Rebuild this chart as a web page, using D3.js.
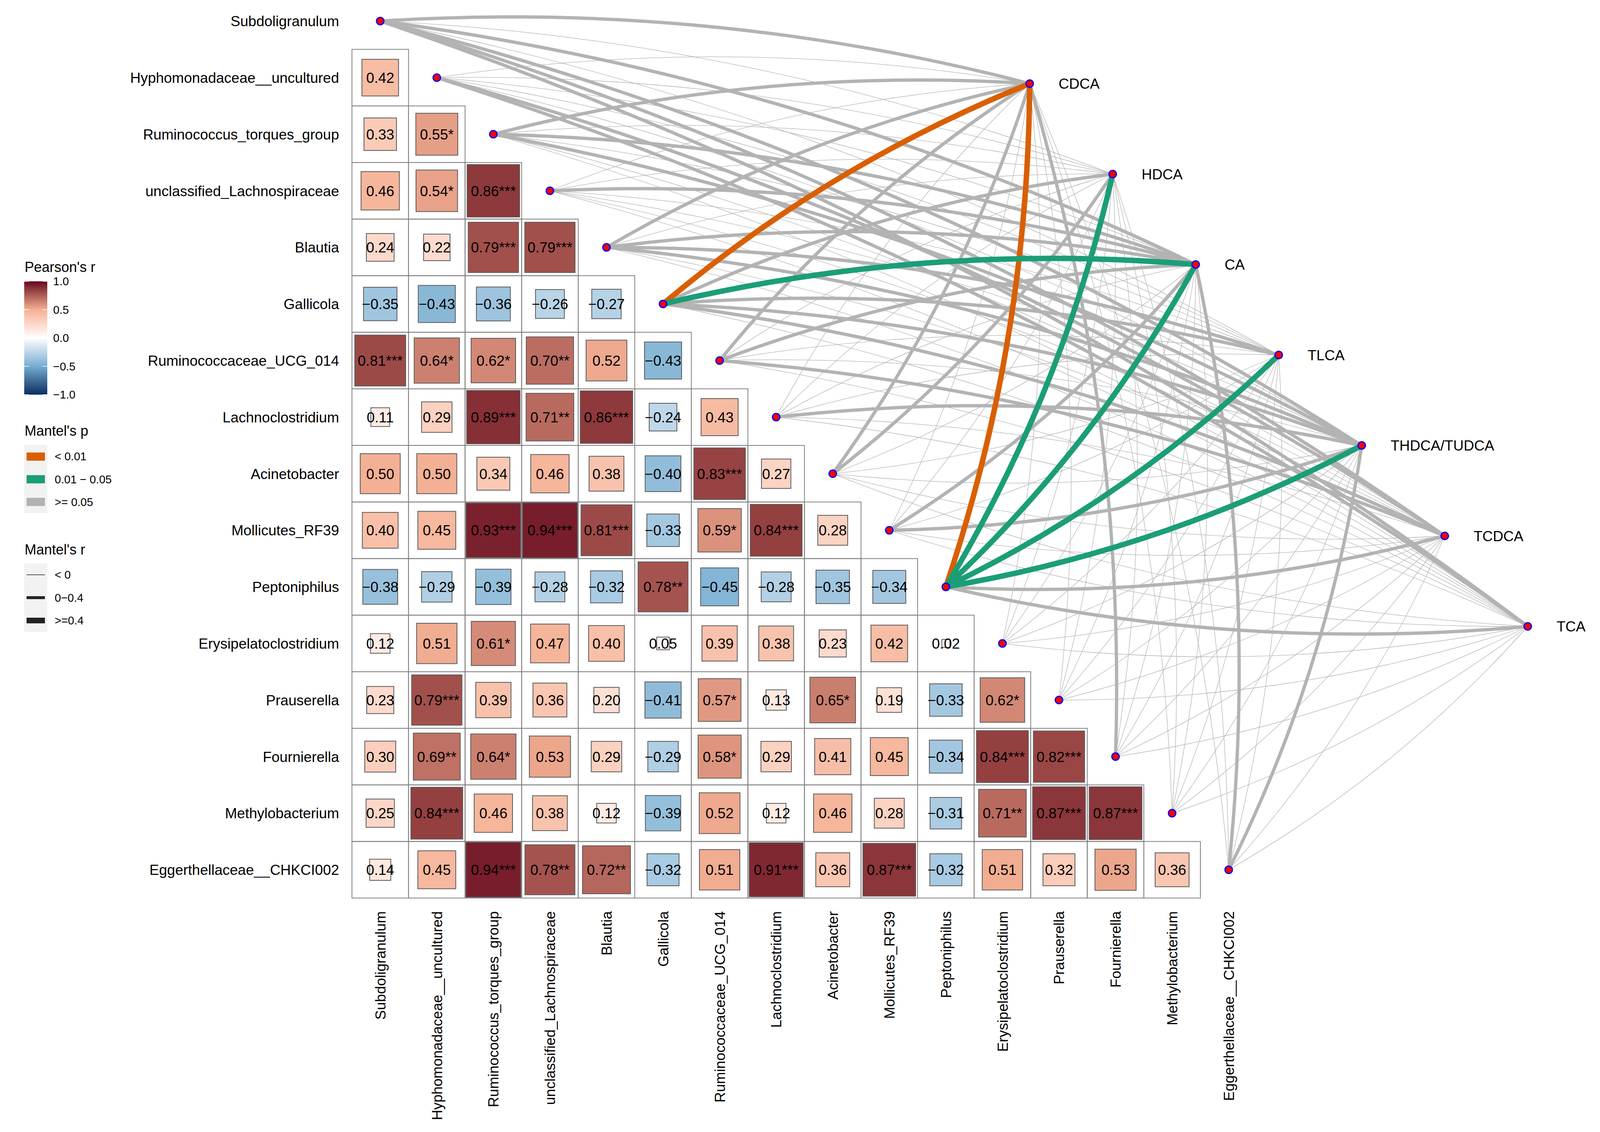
<!DOCTYPE html>
<html lang="en">
<head>
<meta charset="UTF-8">
<title>Mantel network and Pearson correlation matrix</title>
<script src="https://d3js.org/d3.v7.min.js"></script>
<style>
  body { margin: 0; background: #fff; }
  svg { display: block; font-family: "Liberation Sans", Arial, sans-serif; }
</style>
</head>
<body>
<div id="chart"></div>
<script>
const taxa = ["Subdoligranulum", "Hyphomonadaceae__uncultured", "Ruminococcus_torques_group",
  "unclassified_Lachnospiraceae", "Blautia", "Gallicola", "Ruminococcaceae_UCG_014",
  "Lachnoclostridium", "Acinetobacter", "Mollicutes_RF39", "Peptoniphilus",
  "Erysipelatoclostridium", "Prauserella", "Fournierella", "Methylobacterium",
  "Eggerthellaceae__CHKCI002"];

const bileAcids = ["CDCA", "HDCA", "CA", "TLCA", "THDCA/TUDCA", "TCDCA", "TCA"];

// lower triangle of Pearson's r: row i holds columns 0..i-1
const pearsonR = [
  [],
  [0.42],
  [0.33, 0.55],
  [0.46, 0.54, 0.86],
  [0.24, 0.22, 0.79, 0.79],
  [-0.35, -0.43, -0.36, -0.26, -0.27],
  [0.81, 0.64, 0.62, 0.70, 0.52, -0.43],
  [0.11, 0.29, 0.89, 0.71, 0.86, -0.24, 0.43],
  [0.50, 0.50, 0.34, 0.46, 0.38, -0.40, 0.83, 0.27],
  [0.40, 0.45, 0.93, 0.94, 0.81, -0.33, 0.59, 0.84, 0.28],
  [-0.38, -0.29, -0.39, -0.28, -0.32, 0.78, -0.45, -0.28, -0.35, -0.34],
  [0.12, 0.51, 0.61, 0.47, 0.40, 0.05, 0.39, 0.38, 0.23, 0.42, 0.02],
  [0.23, 0.79, 0.39, 0.36, 0.20, -0.41, 0.57, 0.13, 0.65, 0.19, -0.33, 0.62],
  [0.30, 0.69, 0.64, 0.53, 0.29, -0.29, 0.58, 0.29, 0.41, 0.45, -0.34, 0.84, 0.82],
  [0.25, 0.84, 0.46, 0.38, 0.12, -0.39, 0.52, 0.12, 0.46, 0.28, -0.31, 0.71, 0.87, 0.87],
  [0.14, 0.45, 0.94, 0.78, 0.72, -0.32, 0.51, 0.91, 0.36, 0.87, -0.32, 0.51, 0.32, 0.53, 0.36]
];

const pearsonStars = [
  [],
  [""],
  ["", "*"],
  ["", "*", "***"],
  ["", "", "***", "***"],
  ["", "", "", "", ""],
  ["***", "*", "*", "**", "", ""],
  ["", "", "***", "**", "***", "", ""],
  ["", "", "", "", "", "", "***", ""],
  ["", "", "***", "***", "***", "", "*", "***", ""],
  ["", "", "", "", "", "**", "", "", "", ""],
  ["", "", "*", "", "", "", "", "", "", "", ""],
  ["", "***", "", "", "", "", "*", "", "*", "", "", "*"],
  ["", "**", "*", "", "", "", "*", "", "", "", "", "***", "***"],
  ["", "***", "", "", "", "", "", "", "", "", "", "**", "***", "***"],
  ["", "", "***", "**", "**", "", "", "***", "", "***", "", "", "", "", ""]
];

// Mantel test classes, one row per bile acid, one column per taxon
// p class: 0 "< 0.01", 1 "0.01 - 0.05", 2 ">= 0.05"
const mantelP = [
  [2, 2, 2, 2, 2, 0, 2, 2, 2, 2, 0, 2, 2, 2, 2, 2],
  [2, 2, 2, 2, 2, 2, 2, 2, 2, 2, 1, 2, 2, 2, 2, 2],
  [2, 2, 2, 2, 2, 1, 2, 2, 2, 2, 1, 2, 2, 2, 2, 2],
  [2, 2, 2, 2, 2, 2, 2, 2, 2, 2, 1, 2, 2, 2, 2, 2],
  [2, 2, 2, 2, 2, 2, 2, 2, 2, 2, 1, 2, 2, 2, 2, 2],
  [2, 2, 2, 2, 2, 2, 2, 2, 2, 2, 2, 2, 2, 2, 2, 2],
  [2, 2, 2, 2, 2, 2, 2, 2, 2, 2, 2, 2, 2, 2, 2, 2]
];
// r class: 0 "< 0", 1 "0-0.4", 2 ">=0.4"
const mantelR = [
  [1, 0, 1, 0, 1, 2, 1, 0, 1, 0, 2, 0, 0, 1, 0, 0],
  [0, 0, 0, 0, 0, 1, 0, 0, 1, 0, 2, 0, 0, 0, 0, 0],
  [1, 0, 1, 1, 1, 2, 1, 0, 0, 1, 2, 0, 0, 0, 0, 1],
  [0, 0, 0, 0, 1, 1, 0, 0, 0, 0, 2, 0, 0, 0, 0, 0],
  [1, 0, 1, 0, 1, 1, 0, 1, 0, 1, 2, 0, 0, 0, 0, 1],
  [1, 1, 0, 0, 0, 1, 1, 0, 0, 0, 1, 0, 0, 0, 0, 0],
  [1, 1, 0, 0, 0, 0, 0, 0, 0, 0, 1, 0, 0, 0, 0, 0]
];

const pLabels = ["< 0.01", "0.01 \u2212 0.05", ">= 0.05"];
const rLabels = ["< 0", "0\u22120.4", ">=0.4"];
const colorTicks = [1, 0.5, 0, -0.5, -1];

const W = 4100, H = 2897;
const cs = 144.8;

const svg = d3.select("#chart").append("svg")
  .attr("width", W).attr("height", H);

const x = d3.scaleBand().domain(taxa).range([901, 901 + 16 * cs]);
const y = d3.scaleBand().domain(taxa).range([126.3 - cs, 126.3 + 15 * cs]);
const ex = d3.scalePoint().domain(bileAcids).range([2636, 3911]);
const ey = d3.scalePoint().domain(bileAcids).range([214, 1603]);

const fill = d3.scaleLinear()
  .domain([-1, -0.5, 0, 0.5, 1])
  .range(["#053061", "#74ADD1", "#FFFFFF", "#F4B094", "#67001F"])
  .interpolate(d3.interpolateLab);
const side = d3.scaleSqrt().domain([0, 1]).range([0, cs]);
const pColor = d3.scaleOrdinal().domain([0, 1, 2]).range(["#D95F02", "#1B9E77", "#B3B3B3"]);
const rWidth = d3.scaleOrdinal().domain([0, 1, 2]).range([1.3, 8.5, 14]);
const fmt = d3.format(".2f");

// correlation cells
const cells = [];
pearsonR.forEach((row, i) => row.forEach((r, j) => {
  cells.push({ row: taxa[i], col: taxa[j], r: r, stars: pearsonStars[i][j] });
}));

const gCells = svg.append("g");
gCells.selectAll("rect.cell").data(cells).join("rect")
  .attr("class", "cell")
  .attr("x", d => x(d.col)).attr("y", d => y(d.row))
  .attr("width", x.bandwidth()).attr("height", y.bandwidth())
  .attr("fill", "none").attr("stroke", "#808080").attr("stroke-width", 2);

gCells.selectAll("rect.sq").data(cells).join("rect")
  .attr("class", "sq")
  .attr("x", d => x(d.col) + (cs - side(Math.abs(d.r))) / 2)
  .attr("y", d => y(d.row) + (cs - side(Math.abs(d.r))) / 2)
  .attr("width", d => side(Math.abs(d.r)))
  .attr("height", d => side(Math.abs(d.r)))
  .attr("fill", d => fill(d.r))
  .attr("stroke", "#595959").attr("stroke-width", 2);

gCells.selectAll("text").data(cells).join("text")
  .attr("x", d => x(d.col) + cs / 2)
  .attr("y", d => y(d.row) + cs / 2)
  .attr("dy", "0.36em")
  .attr("text-anchor", "middle")
  .attr("font-size", 37)
  .text(d => fmt(d.r) + d.stars);

// axis labels
svg.append("g").selectAll("text").data(taxa).join("text")
  .attr("x", 868).attr("y", d => y(d) + cs / 2).attr("dy", "0.36em")
  .attr("text-anchor", "end").attr("font-size", 37)
  .text(d => d);

svg.append("g").selectAll("text").data(taxa).join("text")
  .attr("transform", d => `translate(${x(d) + cs / 2},2332) rotate(-90)`)
  .attr("dy", "0.36em")
  .attr("text-anchor", "end").attr("font-size", 37)
  .text(d => d);

// Mantel links
const links = [];
bileAcids.forEach((b, k) => taxa.forEach((t, i) => {
  links.push({ env: b, taxon: t, idx: i, p: mantelP[k][i], r: mantelR[k][i] });
}));

function curve(d) {
  const x0 = x(d.taxon) + cs / 2, y0 = y(d.taxon) + cs / 2;
  const x1 = ex(d.env), y1 = ey(d.env);
  const dx = x1 - x0, dy = y1 - y0;
  const k = d.idx < 8 ? 0.08 : -0.08;
  const p = d3.path();
  p.moveTo(x0, y0);
  p.quadraticCurveTo((x0 + x1) / 2 + k * dy, (y0 + y1) / 2 - k * dx, x1, y1);
  return p.toString();
}

const order = d => (d.p < 2 ? 10 : 0) + d.r;
svg.append("g").selectAll("path")
  .data(links.slice().sort((a, b) => order(a) - order(b)))
  .join("path")
  .attr("d", curve)
  .attr("fill", "none")
  .attr("stroke", d => pColor(d.p))
  .attr("stroke-width", d => rWidth(d.r));

// nodes
const nodeStyle = sel => sel.attr("r", 9.5).attr("fill", "#FF0000")
  .attr("stroke", "#0000FF").attr("stroke-width", 3);
svg.append("g").selectAll("circle").data(taxa).join("circle")
  .attr("cx", d => x(d) + cs / 2).attr("cy", d => y(d) + cs / 2)
  .call(nodeStyle);
svg.append("g").selectAll("circle").data(bileAcids).join("circle")
  .attr("cx", d => ex(d)).attr("cy", d => ey(d))
  .call(nodeStyle);
svg.append("g").selectAll("text").data(bileAcids).join("text")
  .attr("x", d => ex(d) + 74).attr("y", d => ey(d)).attr("dy", "0.36em")
  .attr("font-size", 37)
  .text(d => d);

// legends
const leg = svg.append("g");
leg.append("text").attr("x", 63).attr("y", 696).attr("font-size", 36).text("Pearson's r");

const barY = d3.scaleLinear().domain([1, -1]).range([720, 1010]);
const grad = svg.append("defs").append("linearGradient")
  .attr("id", "rgrad").attr("x1", 0).attr("x2", 0).attr("y1", 0).attr("y2", 1);
grad.selectAll("stop").data(d3.range(0, 1.0001, 0.05)).join("stop")
  .attr("offset", d => d)
  .attr("stop-color", d => fill(1 - 2 * d));
leg.append("rect").attr("x", 62).attr("y", 720).attr("width", 59).attr("height", 290)
  .attr("fill", "url(#rgrad)");
leg.selectAll("line.tk").data(colorTicks.flatMap(v => [[v, 62], [v, 109]])).join("line")
  .attr("class", "tk")
  .attr("x1", d => d[1]).attr("x2", d => d[1] + 12)
  .attr("y1", d => barY(d[0])).attr("y2", d => barY(d[0]))
  .attr("stroke", "#fff").attr("stroke-width", 1.5);
leg.selectAll("text.tl").data(colorTicks).join("text")
  .attr("class", "tl")
  .attr("x", 136).attr("y", d => barY(d)).attr("dy", "0.36em")
  .attr("font-size", 29)
  .text(d => d3.format(".1f")(d));

leg.append("text").attr("x", 63).attr("y", 1115).attr("font-size", 36).text("Mantel's p");
leg.append("rect").attr("x", 62).attr("y", 1139).attr("width", 59).attr("height", 174).attr("fill", "#F2F2F2");
leg.selectAll("rect.pk").data([0, 1, 2]).join("rect")
  .attr("class", "pk")
  .attr("x", 68).attr("y", d => 1158 + d * 58).attr("width", 47).attr("height", 21)
  .attr("fill", d => pColor(d));
leg.selectAll("text.pl").data([0, 1, 2]).join("text")
  .attr("class", "pl")
  .attr("x", 140).attr("y", d => 1168 + d * 58.5).attr("dy", "0.36em")
  .attr("font-size", 29)
  .text(d => pLabels[d]);

leg.append("text").attr("x", 63).attr("y", 1419).attr("font-size", 36).text("Mantel's r");
leg.append("rect").attr("x", 62).attr("y", 1442).attr("width", 59).attr("height", 175).attr("fill", "#F2F2F2");
leg.selectAll("line.rk").data([0, 1, 2]).join("line")
  .attr("class", "rk")
  .attr("x1", 68).attr("x2", 115)
  .attr("y1", d => 1471 + d * 58.5).attr("y2", d => 1471 + d * 58.5)
  .attr("stroke", "#222").attr("stroke-width", d => [1.3, 7.7, 14.7][d]);
leg.selectAll("text.rl").data([0, 1, 2]).join("text")
  .attr("class", "rl")
  .attr("x", 140).attr("y", d => 1471 + d * 58.5).attr("dy", "0.36em")
  .attr("font-size", 29)
  .text(d => rLabels[d]);
</script>
</body>
</html>
